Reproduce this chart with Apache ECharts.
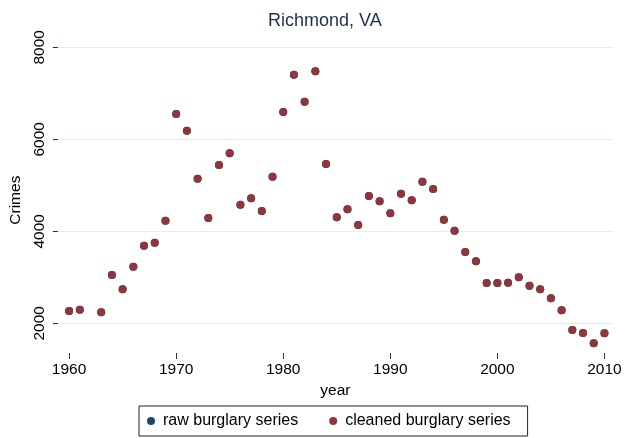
<!DOCTYPE html>
<html>
<head>
<meta charset="utf-8">
<script src="https://cdn.jsdelivr.net/npm/echarts@6/dist/echarts.min.js"></script>
<style>html,body{margin:0;padding:0;background:#fff}#c{width:625px;height:438px}</style>
</head>
<body>
<div id="c"></div>
<script>
const years = [1960,1961,1963,1964,1965,1966,1967,1968,1969,1970,1971,1972,1973,1974,1975,1976,1977,1978,1979,1980,1981,1982,1983,1984,1985,1986,1987,1988,1989,1990,1991,1992,1993,1994,1995,1996,1997,1998,1999,2000,2001,2002,2003,2004,2005,2006,2007,2008,2009,2010];
const rawBurglary = [2267,2296,2239,3050,2739,3230,3687,3752,4230,6550,6187,5143,4289,5441,5696,4578,4717,4441,5187,6593,7405,6817,7478,5463,4304,4478,4137,4767,4652,4391,4817,4674,5078,4920,4252,4013,3550,3348,2876,2876,2883,3000,2817,2739,2543,2283,1854,1789,1565,1783];
const cleanedBurglary = [2267,2296,2239,3050,2739,3230,3687,3752,4230,6550,6187,5143,4289,5441,5696,4578,4717,4441,5187,6593,7405,6817,7478,5463,4304,4478,4137,4767,4652,4391,4817,4674,5078,4920,4252,4013,3550,3348,2876,2876,2883,3000,2817,2739,2543,2283,1854,1789,1565,1783];
const xTicks = [1960,1970,1980,1990,2000,2010];
const yTicks = [2000,4000,6000,8000];
const seriesNames = ['raw burglary series','cleaned burglary series'];
const titleText = 'Richmond, VA';
const xName = 'year';
const yName = 'Crimes';

const font = 'Liberation Sans, Arial, Helvetica, sans-serif';
const chart = echarts.init(document.getElementById('c'), null, {renderer:'canvas'});
chart.setOption({
  animation: false,
  backgroundColor: '#ffffff',
  title: {
    text: titleText, left: 263, top: 7,
    textStyle: {fontFamily: font, fontSize: 18, fontWeight: 'normal', color: '#1e2e50'}
  },
  grid: {left: 53, right: 12, top: 47.3, bottom: 85, containLabel: false},
  xAxis: {
    type: 'value', min: 1958.954, max: 2010.80,
    name: xName, nameLocation: 'middle', nameGap: 25,
    nameTextStyle: {fontFamily: font, fontSize: 15.5, color: '#000'},
    axisLine: {show: false},
    axisTick: {show: true, length: 6, customValues: xTicks, lineStyle: {color: '#333', width: 1}},
    axisLabel: {customValues: xTicks, margin: 9, fontFamily: font, fontSize: 15.5, color: '#000', formatter: v => String(v)},
    splitLine: {show: false}
  },
  yAxis: {
    type: 'value', min: 1354.3, max: 8000,
    name: yName, nameLocation: 'middle', nameGap: 29,
    nameTextStyle: {fontFamily: font, fontSize: 15.5, color: '#000'},
    axisLine: {show: false},
    axisTick: {show: true, length: 5, customValues: yTicks, lineStyle: {color: '#333', width: 1}},
    axisLabel: {customValues: yTicks, rotate: 90, margin: 10, fontFamily: font, fontSize: 15.5, color: '#000', formatter: v => String(v)},
    splitLine: {show: true, lineStyle: {color: '#e6edf0', width: 1.2}}
  },
  legend: {
    left: 139, top: 406,
    data: seriesNames,
    orient: 'horizontal',
    borderColor: '#222', borderWidth: 1, borderRadius: 0,
    padding: [7, 17, 7, 8],
    itemGap: 31, itemWidth: 8, itemHeight: 8,
    icon: 'circle',
    textStyle: {fontFamily: font, fontSize: 16, color: '#000', padding: [0,0,0,3]}
  },
  series: [
    {name: seriesNames[0], type: 'scatter', symbol: 'circle', symbolSize: 8,
     itemStyle: {color: '#1a476f', opacity: 1}, data: years.map((y,i) => [y, rawBurglary[i]])},
    {name: seriesNames[1], type: 'scatter', symbol: 'circle', symbolSize: 8,
     itemStyle: {color: '#90353b', opacity: 1}, data: years.map((y,i) => [y, cleanedBurglary[i]])}
  ]
});
</script>
</body>
</html>
